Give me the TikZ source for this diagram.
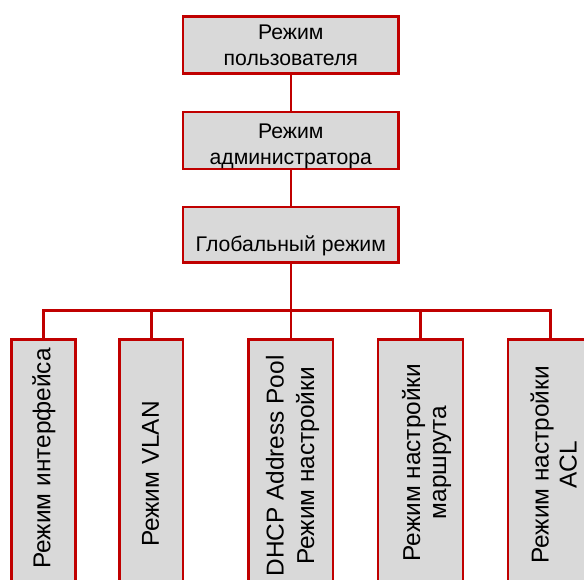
\documentclass[tikz,border=0pt]{standalone}
\usepackage{fontspec}
\setmainfont{Liberation Sans}
\usepackage{tikz}
\usetikzlibrary{positioning}
\definecolor{modered}{RGB}{192,0,0}
\definecolor{modegray}{RGB}{217,217,217}
\newcommand{\wirewidth}{2.6pt}
\newcommand{\topfont}{\fontsize{21.2}{26}\selectfont}
\newcommand{\sidefont}[1][28]{\fontsize{24.4}{#1}\selectfont}
\tikzset{
  modebox/.style={draw=modered, fill=modegray, line width=\wirewidth, inner sep=0pt},
  wire/.style={draw=modered, line width=\wirewidth},
  toptext/.style={font=\topfont, align=center, inner sep=0pt},
  sidetext/.style={align=center, inner sep=0pt, rotate=90}
}

\begin{document}
\begin{tikzpicture}[x=1pt,y=1pt]
  \clip (0,0) rectangle (584,579);

      %%  upper modes  %%
  \node (user) at (290.8,533.7) [modebox, minimum width=215.8, minimum height=57] {};
  \node (admin) at (290.8,438.5) [modebox, minimum width=215.8, minimum height=56.7] {};
  \node (glob) at (290.8,344.1) [modebox, minimum width=215.8, minimum height=55.8] {};
  \coordinate (bus) at (290.8,268.5);
  \draw[wire] (user) to (admin) to (glob) to (bus);

      %%  lower modes  %%
  \foreach \n/\x/\w in {b1/43.3/64, b2/151.2/63.3, b3/290.8/84.3, b4/420.5/85, b5/550.3/85}
  { \node (\n) at (\x,112) [modebox, minimum width=\w, minimum height=254.5] {};
    \draw[wire] (\n.north) |- (bus); }

  \node (usert) at (user) [toptext] {Режим\\пользователя};
  \node (admint) at ([yshift=-5.5]admin.center) [toptext] {Режим\\администратора};
  \node (globt) at ([yshift=-10.6]glob.center) [toptext] {Глобальный режим};

  \node (b1t) at (43.8,120.5) [sidetext, font=\sidefont] {Режим интерфейса};
  \node (b2t) at (150.7,105) [sidetext, font=\sidefont] {Режим VLAN};
  \node (b3t) at (292.5,113) [sidetext, font={\sidefont[30.5]}] {DHCP Address Pool\\Режим настройки};
  \node (b4t) at (426.6,116.5) [sidetext, font={\sidefont[26]}] {Режим настройки\\маршрута};
  \node (b5t) at (553.8,114) [sidetext, font=\sidefont] {Режим настройки\\ACL};

\end{tikzpicture}
\end{document}
